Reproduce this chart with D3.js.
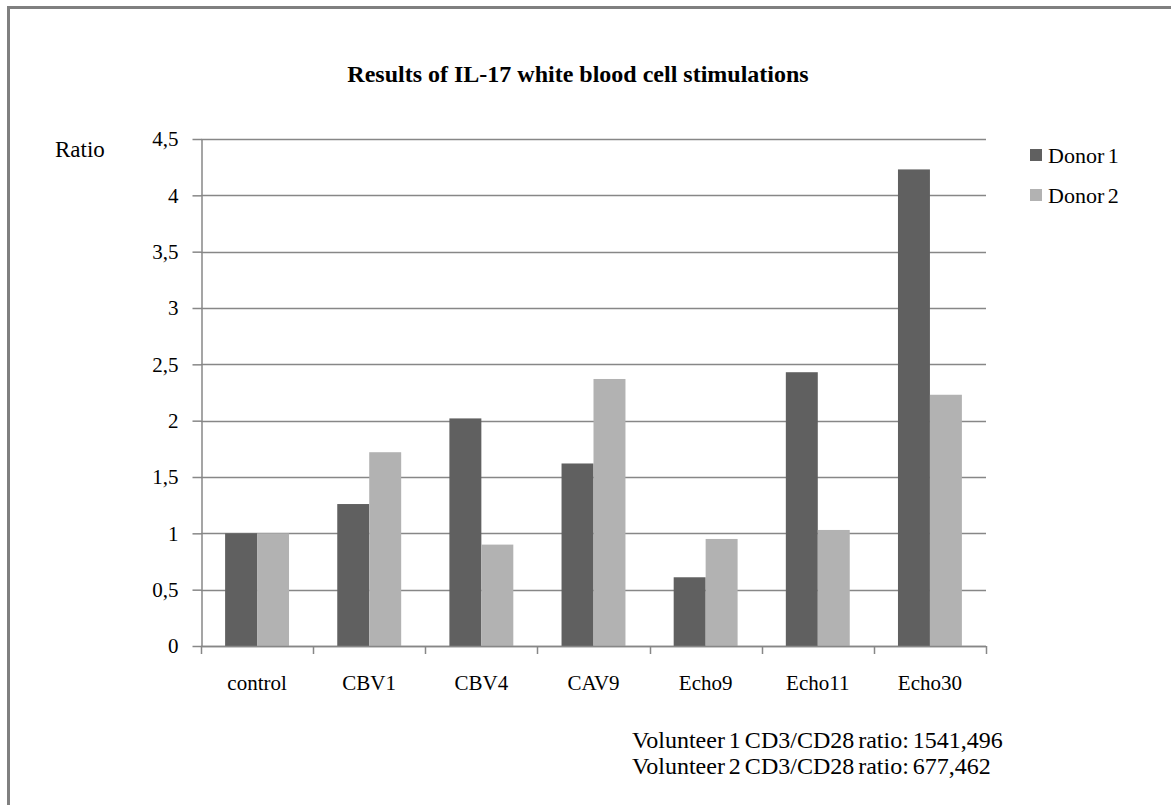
<!DOCTYPE html>
<html>
<head>
<meta charset="utf-8">
<script src="https://cdn.jsdelivr.net/npm/d3@7"></script>
<style>
  html, body { margin: 0; padding: 0; background: #fff; }
  svg { display: block; }
  text { font-family: "Liberation Serif", "Times New Roman", serif; fill: #000; }
</style>
</head>
<body>
<svg id="chart" width="1171" height="805"></svg>
<script>
// Chart data
const categories = ["control", "CBV1", "CBV4", "CAV9", "Echo9", "Echo11", "Echo30"];
const seriesNames = ["Donor 1", "Donor 2"];
const donor1 = [1.0, 1.26, 2.02, 1.62, 0.61, 2.43, 4.23];
const donor2 = [1.0, 1.72, 0.90, 2.37, 0.95, 1.03, 2.23];
const yTicks = [0, 0.5, 1, 1.5, 2, 2.5, 3, 3.5, 4, 4.5];
const titleText = "Results of IL-17 white blood cell stimulations";
const yLabel = "Ratio";
const notes = ["Volunteer 1 CD3/CD28 ratio: 1541,496", "Volunteer 2 CD3/CD28 ratio: 677,462"];

const colors = ["#606060", "#b2b2b2"];
const gridColor = "#878787";
const serif = "'Liberation Serif', 'Times New Roman', serif";

const svg = d3.select("#chart");

// Outer frame (only top and left edges fall inside the view)
svg.append("path")
  .attr("d", "M8.5,805 L8.5,7.5 L1171,7.5")
  .attr("fill", "none")
  .attr("stroke", "#808080")
  .attr("stroke-width", 3);

const plot = { left: 201, right: 986, top: 139, bottom: 646 };

const x0 = d3.scaleBand()
  .domain(categories)
  .range([plot.left, plot.right])
  .paddingInner(0.43)
  .paddingOuter(0.215);

const x1 = d3.scaleBand()
  .domain(seriesNames)
  .range([0, x0.bandwidth()]);

const y = d3.scaleLinear()
  .domain([0, 4.5])
  .range([plot.bottom, plot.top]);

const fmt = d => String(d).replace(".", ",");

// Horizontal gridlines
svg.append("g")
  .selectAll("line")
  .data(yTicks)
  .join("line")
  .attr("x1", plot.left)
  .attr("x2", plot.right)
  .attr("y1", d => Math.round(y(d)) + 0.5)
  .attr("y2", d => Math.round(y(d)) + 0.5)
  .attr("stroke", gridColor)
  .attr("stroke-width", 1.5);

// Bars
const rows = categories.map((c, i) => ({ cat: c, values: [donor1[i], donor2[i]] }));
svg.append("g")
  .selectAll("g")
  .data(rows)
  .join("g")
  .attr("transform", d => `translate(${x0(d.cat)},0)`)
  .selectAll("rect")
  .data(d => d.values.map((v, j) => ({ name: seriesNames[j], v, j })))
  .join("rect")
  .attr("x", d => x1(d.name))
  .attr("width", x1.bandwidth())
  .attr("y", d => y(d.v))
  .attr("height", d => y(0) - y(d.v))
  .attr("fill", d => colors[d.j]);

// Y axis
const yAxis = svg.append("g")
  .attr("transform", `translate(${plot.left + 0.5},0)`)
  .call(d3.axisLeft(y).tickValues(yTicks).tickFormat(fmt).tickSize(9).tickSizeOuter(0).tickPadding(14));
yAxis.select(".domain").attr("stroke", gridColor).attr("stroke-width", 1.5);
yAxis.selectAll(".tick line").attr("stroke", gridColor).attr("stroke-width", 1.5);
yAxis.selectAll(".tick text")
  .attr("font-family", serif)
  .attr("font-size", 21)
  .attr("fill", "#000");

// X axis line
svg.append("line")
  .attr("x1", plot.left)
  .attr("x2", plot.right)
  .attr("y1", plot.bottom + 0.5)
  .attr("y2", plot.bottom + 0.5)
  .attr("stroke", gridColor)
  .attr("stroke-width", 1.5);

// Category boundary ticks
const step = x0.step();
const bounds = d3.range(categories.length + 1).map(i => plot.left + i * step);
svg.append("g")
  .selectAll("line")
  .data(bounds)
  .join("line")
  .attr("x1", d => Math.round(d) + 0.5)
  .attr("x2", d => Math.round(d) + 0.5)
  .attr("y1", plot.bottom)
  .attr("y2", plot.bottom + 8)
  .attr("stroke", gridColor)
  .attr("stroke-width", 1.5);

// Category labels
svg.append("g")
  .selectAll("text")
  .data(categories)
  .join("text")
  .attr("x", d => x0(d) + x0.bandwidth() / 2)
  .attr("y", 690)
  .attr("text-anchor", "middle")
  .attr("font-family", serif)
  .attr("font-size", 21)
  .text(d => d);

// Title
svg.append("text")
  .attr("x", 578)
  .attr("y", 82)
  .attr("text-anchor", "middle")
  .attr("font-family", serif)
  .attr("font-size", 24)
  .attr("font-weight", "bold")
  .text(titleText);

// Axis label
svg.append("text")
  .attr("x", 55)
  .attr("y", 157)
  .attr("font-family", serif)
  .attr("font-size", 23)
  .text(yLabel);

// Legend
const legend = svg.append("g")
  .selectAll("g")
  .data(seriesNames)
  .join("g")
  .attr("transform", (d, i) => `translate(1030,${149 + i * 40})`);
legend.append("rect")
  .attr("width", 12)
  .attr("height", 12)
  .attr("fill", (d, i) => colors[i]);
legend.append("text")
  .attr("x", 18)
  .attr("y", 14)
  .attr("font-family", serif)
  .attr("font-size", 22)
  .attr("word-spacing", -2)
  .text(d => d);

// Footnotes
svg.append("g")
  .selectAll("text")
  .data(notes)
  .join("text")
  .attr("x", 632)
  .attr("y", (d, i) => 748 + i * 26)
  .attr("font-family", serif)
  .attr("font-size", 24)
  .attr("word-spacing", -2)
  .text(d => d);
</script>
</body>
</html>
